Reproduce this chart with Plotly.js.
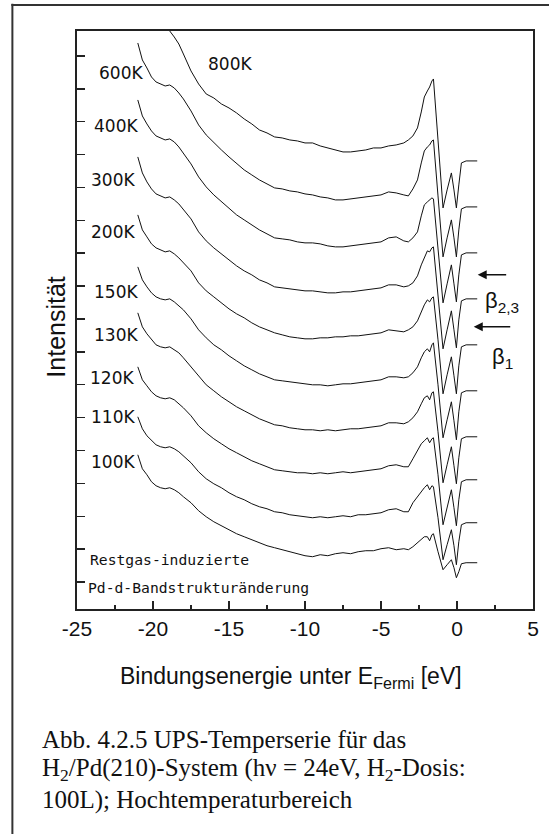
<!DOCTYPE html>
<html>
<head>
<meta charset="utf-8">
<script src="https://cdn.plot.ly/plotly-3.0.1.min.js"></script>
<style>
html,body{margin:0;padding:0;background:#fff;}
#chart{width:549px;height:834px;}
</style>
</head>
<body>
<div id="chart"></div>
<script>
// Binding energy (eV) sampling points
const energy = [-21.0,-20.7,-20.4,-20.1,-19.8,-19.5,-19.2,-18.9,-18.6,-18.3,-18.0,-17.5,-17.0,-16.5,-16.0,-15.5,-15.0,-14.5,-14.0,-13.5,-13.0,-12.5,-12.0,
  -11.5,-11.0,-10.5,-10.0,-9.5,-9.0,-8.5,-8.0,-7.5,-7.0,-6.5,-6.0,-5.5,-5.0,-4.5,-4.0,-3.5,-3.2,
  -2.9,-2.6,-2.35,-2.15,-1.95,-1.8,-1.65,-1.55,-1.25,-0.92,-0.65,-0.37,-0.2,-0.04,0.12,0.29,0.6,1.0,1.33];

const temperatures = ['100K','110K','120K','130K','150K','200K','300K','400K','600K','800K'];

// Intensity (arb. units, stacked spectra)
const i100K = [154,140,134,127,123,121,120,121,119,116,112,106,98,92,87,83,79,75,72,69,66,63,61,
  59,57,55,53,52,54,53,55,56,55,57,58,58,60,61,59,60,59,
  62,66,70,72,72,68,74,75,57,39,44,49,41,31,37,45,46,46,46];
const i110K = [192,180,173,168,164,162,161,162,160,157,153,146,137,130,125,121,116,112,109,105,102,100,97,
  96,94,93,92,91,92,91,92,93,92,94,94,95,96,99,100,97,97,
  106,112,118,121,124,119,123,122,91,49,64,79,63,44,67,84,86,86,86];
const i120K = [242,229,223,217,213,211,210,211,209,205,201,193,183,176,170,165,160,156,152,148,145,142,139,
  138,137,136,136,135,136,135,136,137,136,137,138,139,140,143,144,142,142,
  150,159,165,168,171,166,170,171,134,84,101,119,101,83,109,127,129,129,129];
const i130K = [296,282,275,269,264,262,261,262,259,256,251,242,232,224,218,212,207,202,198,194,190,187,184,
  183,181,180,179,179,178,179,178,179,180,180,181,182,183,186,186,185,187,
  191,197,205,211,213,209,216,217,177,126,144,162,143,125,151,170,172,172,172];
const i150K = [342,329,322,316,312,310,309,310,307,303,299,290,279,271,264,259,253,248,243,239,235,232,229,
  228,227,226,225,224,224,223,224,225,225,226,227,228,229,232,232,231,232,
  236,242,251,257,260,257,264,266,224,171,189,207,188,169,197,216,218,218,218];
const i200K = [394,379,372,365,361,359,357,358,355,351,346,338,326,318,312,306,300,295,291,286,282,279,276,
  274,272,271,270,270,271,271,272,272,273,273,274,275,276,279,278,277,279,
  282,288,297,304,309,307,311,312,269,215,234,252,233,215,243,262,264,264,264];
const i300K = [452,436,427,420,415,413,411,412,409,405,399,390,377,368,361,355,349,343,338,334,329,326,322,
  321,320,319,318,318,317,316,316,317,317,318,319,320,321,324,324,322,323,
  326,333,344,352,358,357,361,362,316,260,279,298,279,261,289,308,310,310,310];
const i400K = [509,493,485,478,473,471,469,470,467,462,456,445,432,422,414,407,400,394,389,384,379,375,371,
  370,369,367,366,366,365,363,362,362,363,364,365,366,367,371,372,368,367,
  371,377,393,404,407,409,411,410,361,306,325,344,325,307,334,354,356,356,356];
const i600K = [566,549,541,532,527,525,523,524,521,516,510,498,484,474,466,459,452,445,439,434,429,425,421,
  420,418,417,415,414,412,411,409,409,410,411,412,413,414,417,416,414,413,
  420,429,446,458,462,464,468,469,413,352,371,389,371,352,379,400,402,402,402];
const i800K = [639,633,626,619,612,604,591,578,572,565,555,538,525,515,511,505,501,496,490,485,479,476,472,
  471,469,468,466,466,463,461,459,457,457,458,459,461,461,463,464,466,469,
  473,481,497,512,518,522,528,530,469,401,419,436,419,401,424,446,448,448,448];

const spectra = [i100K,i110K,i120K,i130K,i150K,i200K,i300K,i400K,i600K,i800K];

const xTickVals = [-25,-20,-15,-10,-5,0,5];
const xTickText = ['-25','-20','-15','-10','-5','0','5'];

const traces = spectra.map((y,k)=>({
  x: energy, y: y, type:'scatter', mode:'lines', name: temperatures[k],
  line:{color:'#111', width:1}, showlegend:false, hoverinfo:'skip'
}));

const labelFont = {family:'DejaVu Sans, Verdana, sans-serif', size:17, color:'#111'};
const labelAt = {
  '800K':[-14.96,545], '600K':[-22.13,536], '400K':[-22.42,483], '300K':[-22.62,429],
  '200K':[-22.62,377], '150K':[-22.45,317], '130K':[-22.42,274], '120K':[-22.68,231],
  '110K':[-22.65,192], '100K':[-22.62,147]
};
const annotations = temperatures.map(t=>({
  text:t, x:labelAt[t][0], y:labelAt[t][1], xref:'x', yref:'y',
  showarrow:false, xanchor:'center', yanchor:'middle', font:labelFont
}));

const monoFont = {family:'DejaVu Sans Mono, monospace', size:14.7, color:'#111'};
const serif = {family:'Liberation Serif, Times New Roman, serif', size:25, color:'#111'};
annotations.push(
  {text:'Restgas-induzierte', x:-24.30, y:49, xref:'x', yref:'y', showarrow:false, xanchor:'left', yanchor:'middle', font:monoFont},
  {text:'Pd-d-Bandstrukturänderung', x:-24.38, y:21, xref:'x', yref:'y', showarrow:false, xanchor:'left', yanchor:'middle', font:monoFont},
  {text:'β<sub>2,3</sub>', x:2.94, y:307, xref:'x', yref:'y', showarrow:false, xanchor:'center', yanchor:'middle',
   font:{family:'Liberation Sans, Arial, sans-serif', size:22, color:'#111'}},
  {text:'β<sub>1</sub>', x:3.0, y:251, xref:'x', yref:'y', showarrow:false, xanchor:'center', yanchor:'middle',
   font:{family:'Liberation Sans, Arial, sans-serif', size:22, color:'#111'}},
  {text:'', x:1.36, y:334, xref:'x', yref:'y', showarrow:true, ax:30, ay:0, arrowhead:2, arrowsize:1.2, arrowwidth:1.5, arrowcolor:'#111', standoff:0},
  {text:'', x:1.10, y:282, xref:'x', yref:'y', showarrow:true, ax:38, ay:0, arrowhead:2, arrowsize:1.2, arrowwidth:1.5, arrowcolor:'#111', standoff:0},
  {text:'Intensität', x:-0.0467, y:0.488, xref:'paper', yref:'paper', showarrow:false, textangle:-90,
   xanchor:'center', yanchor:'middle', font:{family:'Liberation Sans, Arial, sans-serif', size:25, color:'#111'}},
  {text:'Bindungsenergie unter E<sub>Fermi</sub> [eV]', x:0.4697, y:-0.1188, xref:'paper', yref:'paper', showarrow:false,
   xanchor:'center', yanchor:'middle', font:{family:'Liberation Sans, Arial, sans-serif', size:23, color:'#111'}},
  {text:'Abb. 4.2.5 UPS-Temperserie für das', x:-0.0818, y:-0.226, xref:'paper', yref:'paper', showarrow:false,
   xanchor:'left', yanchor:'middle', font:serif},
  {text:'H<sub>2</sub>/Pd(210)-System (hν = 24eV, H<sub>2</sub>-Dosis:', x:-0.0818, y:-0.2779, xref:'paper', yref:'paper', showarrow:false,
   xanchor:'left', yanchor:'middle', font:serif},
  {text:'100L); Hochtemperaturbereich', x:-0.0818, y:-0.3298, xref:'paper', yref:'paper', showarrow:false,
   xanchor:'left', yanchor:'middle', font:serif}
);

const axisColor = '#222';
const layout = {
  width:549, height:834,
  margin:{l:77.3, r:15.7, t:31, b:224.7, pad:0},
  paper_bgcolor:'#fff', plot_bgcolor:'#fff',
  showlegend:false,
  xaxis:{range:[-25,5], tickmode:'array', tickvals:xTickVals, ticktext:xTickText,
    ticks:'inside', ticklen:8, tickwidth:1.5, tickcolor:axisColor,
    showline:true, linewidth:2, linecolor:axisColor, mirror:true, showgrid:false, zeroline:false,
    tickfont:{family:'Liberation Sans, Arial, sans-serif', size:21, color:'#111'},
    minor:{dtick:2.5, tick0:-25, ticks:'inside', ticklen:4, tickwidth:1.5, tickcolor:axisColor, showgrid:false}},
  xaxis2:{overlaying:'x', side:'top', anchor:'y', range:[-25,5], tick0:-25, dtick:2.5,
    ticks:'inside', ticklen:8, tickwidth:1.5, tickcolor:axisColor, showticklabels:false,
    showline:false, showgrid:false, zeroline:false},
  yaxis:{range:[-0.3,578], tick0:26.7, dtick:32.9, ticks:'inside', ticklen:8, tickwidth:1.5, tickcolor:axisColor,
    showticklabels:false, showline:true, linewidth:2, linecolor:axisColor, mirror:true, showgrid:false, zeroline:false},
  yaxis2:{overlaying:'y', side:'right', anchor:'x', range:[-0.3,578], tick0:26.7, dtick:32.9,
    ticks:'outside', ticklen:3, tickwidth:1.5, tickcolor:axisColor, showticklabels:false,
    showline:false, showgrid:false, zeroline:false},
  annotations: annotations,
  shapes:[
    {type:'line', xref:'paper', yref:'paper', x0:-0.1417, x1:-0.1417, y0:-0.40, y1:1.047, line:{color:'#333', width:2}},
    {type:'line', xref:'paper', yref:'paper', x0:-0.1439, x1:1.05, y0:1.045, y1:1.045, line:{color:'#333', width:2}}
  ]
};

Plotly.newPlot('chart', traces, layout, {staticPlot:true, displayModeBar:false});
</script>
</body>
</html>
